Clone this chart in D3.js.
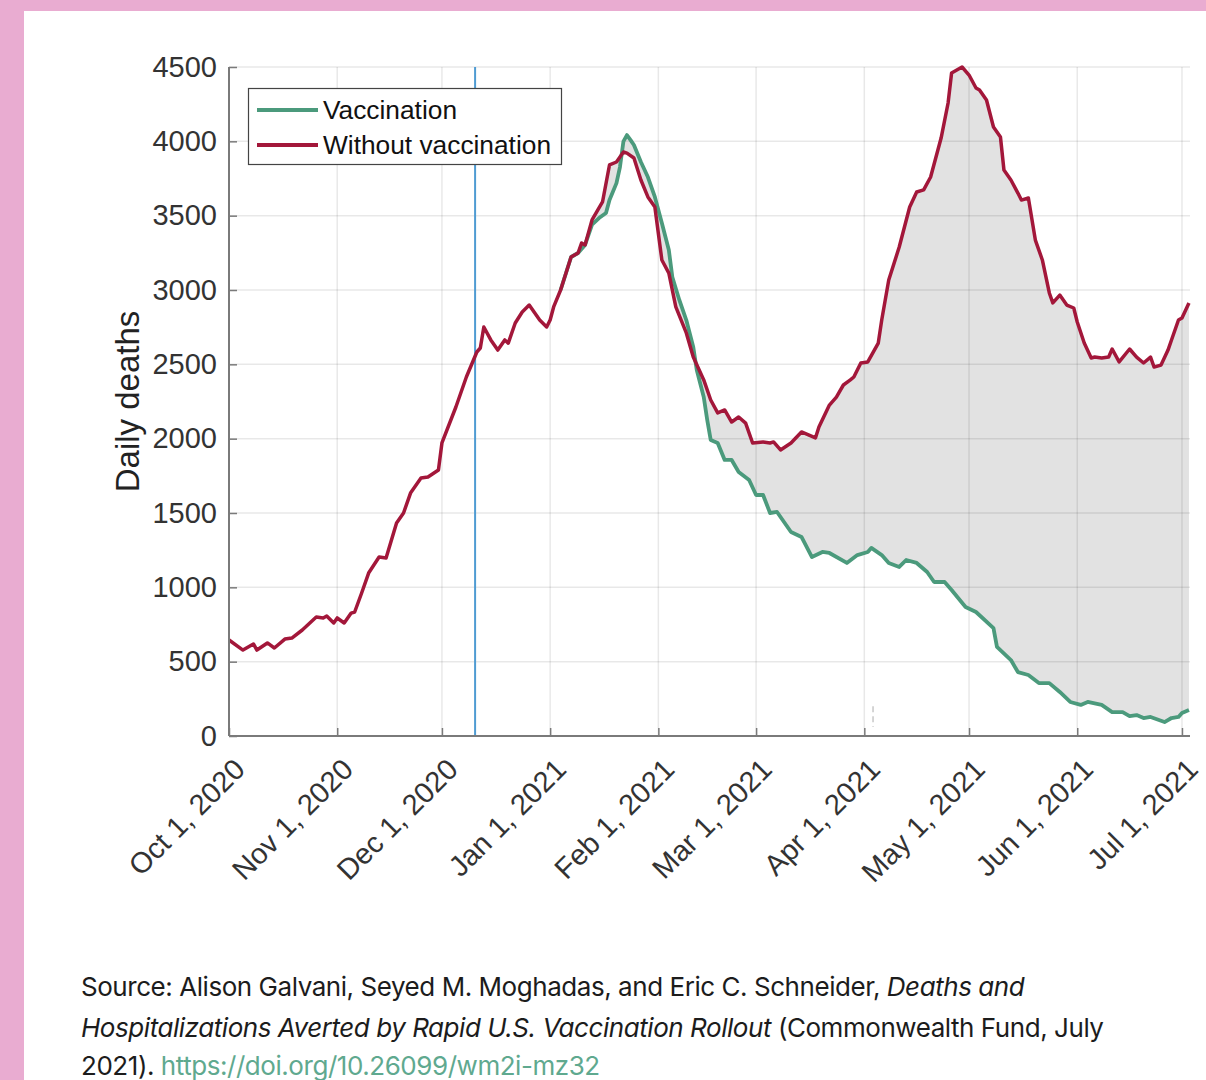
<!DOCTYPE html>
<html>
<head>
<meta charset="utf-8">
<script src="https://cdn.jsdelivr.net/npm/d3@7"></script>
<style>
  html, body { margin: 0; padding: 0; background: #fff; }
  svg { display: block; }
</style>
</head>
<body>
<svg id="chart" width="1206" height="1080"></svg>
<script>
// ---- Data (day offsets from Oct 1, 2020) ----
const startDate = Date.UTC(2020, 9, 1);
const endDay = 275.3;

const redDays = [0,4,7,8,11,13,16,18,21,25,27,28,30,31,33,35,36,38,40,43,45,48,50,52,55,57,60,61,65,68,71,72,73,75,77,79,80,82,84,86,89,91,92,93,95,98,100,101,102,104,107,109,111,113,114,116,118,120,122,124,126,128,131,133,136,138,140,142,144,146,148,150,153,155,156,158,161,164,166,168,169,172,174,176,178,179,181,183,186,187,189,192,195,197,199,201,204,206,207,210,212,214,215,217,219,221,222,224,226,227,229,231,233,235,236,238,240,242,243,245,247,248,250,252,253,255,258,260,262,264,265,267,269,270,272,273,275];
const redValues = [646,578,619,578,626,592,652,659,713,800,794,807,760,794,760,827,834,962,1096,1204,1197,1433,1500,1634,1735,1742,1789,1971,2213,2415,2583,2610,2751,2664,2596,2664,2643,2778,2852,2899,2798,2751,2798,2886,3000,3222,3249,3316,3303,3471,3592,3841,3861,3928,3921,3888,3740,3626,3558,3202,3114,2886,2711,2549,2395,2260,2173,2193,2112,2146,2105,1971,1978,1971,1978,1924,1971,2045,2025,2005,2078,2226,2280,2361,2395,2415,2509,2516,2643,2800,3067,3289,3558,3659,3673,3760,4022,4258,4460,4500,4446,4359,4345,4278,4096,4029,3807,3740,3652,3605,3619,3336,3202,2980,2913,2966,2899,2879,2785,2643,2543,2549,2543,2549,2603,2516,2603,2549,2509,2549,2482,2495,2596,2664,2798,2812,2913];

const greenDays = [95,98,100,102,104,106,108,109,111,112,113,114,115,116,118,120,122,124,126,127,129,131,133,134,136,137,138,140,142,144,146,149,151,153,155,157,158,161,164,167,170,172,177,180,183,184,187,189,192,194,197,200,202,205,207,211,214,219,220,224,226,229,232,235,238,241,244,246,250,253,256,258,260,262,264,268,270,272,273,275];
const greenValues = [3000,3222,3249,3303,3440,3484,3518,3605,3719,3827,4000,4042,4010,3975,3861,3760,3626,3451,3269,3087,2933,2798,2616,2462,2280,2126,1991,1971,1857,1857,1776,1722,1621,1621,1500,1507,1473,1372,1339,1204,1238,1231,1164,1217,1238,1265,1217,1164,1137,1184,1164,1103,1036,1036,982,868,834,726,599,511,430,410,356,356,296,229,209,229,209,161,161,134,141,121,128,94,121,128,155,175];

const vaccineStartDay = 70.5;
const yTicks = [0,500,1000,1500,2000,2500,3000,3500,4000,4500];
const monthTicks = [[2020,9],[2020,10],[2020,11],[2021,0],[2021,1],[2021,2],[2021,3],[2021,4],[2021,5],[2021,6]];
const seriesNames = ["Vaccination", "Without vaccination"];
const yLabel = "Daily deaths";

// ---- Setup ----
const toDate = d => new Date(startDate + d * 86400000);
const svg = d3.select("#chart");
const W = 1206, H = 1080;

const x = d3.scaleUtc().domain([toDate(0), toDate(endDay)]).range([229, 1190]);
const y = d3.scaleLinear().domain([0, 4500]).range([736, 67]);

const red = "#a3173a", green = "#4b9a7c", blue = "#4f9bd2";
const FONT = "'Liberation Sans', Arial, Helvetica, sans-serif";

// background & pink frame
svg.append("rect").attr("width", W).attr("height", H).attr("fill", "#e9acd1");
svg.append("rect").attr("x", 24).attr("y", 11).attr("width", W - 24).attr("height", H - 11).attr("fill", "#fff");

const redPts = redDays.map((d, i) => [toDate(d), redValues[i]]);
const greenPts = greenDays.map((d, i) => [toDate(d), greenValues[i]]);

// shaded area between curves
const fillPts = redPts.filter(p => p[0] >= toDate(greenDays[0])).concat(greenPts.slice().reverse());
svg.append("path")
  .attr("d", d3.line().x(p => x(p[0])).y(p => y(p[1]))(fillPts) + "Z")
  .attr("fill", "#e2e2e2").attr("stroke", "none");

// grid
const monthDates = monthTicks.map(m => new Date(Date.UTC(m[0], m[1], 1)));
const grid = svg.append("g");
grid.selectAll(".hg").data(yTicks).join("line")
  .attr("x1", x.range()[0]).attr("x2", x.range()[1])
  .attr("y1", d => y(d)).attr("y2", d => y(d))
  .attr("stroke", "rgba(0,0,0,0.09)").attr("stroke-width", 1.5);
grid.selectAll(".vg").data(monthDates).join("line")
  .attr("x1", d => x(d)).attr("x2", d => x(d))
  .attr("y1", y(4500)).attr("y2", y(0))
  .attr("stroke", "rgba(0,0,0,0.09)").attr("stroke-width", 1.5);

// vaccine start line
svg.append("line")
  .attr("x1", x(toDate(vaccineStartDay))).attr("x2", x(toDate(vaccineStartDay)))
  .attr("y1", y(4500)).attr("y2", y(0))
  .attr("stroke", blue).attr("stroke-width", 2);

// small dashed marker near Apr 3
svg.append("line")
  .attr("x1", x(toDate(184.5))).attr("x2", x(toDate(184.5)))
  .attr("y1", y(200)).attr("y2", y(60))
  .attr("stroke", "#c8c8c8").attr("stroke-width", 1.5).attr("stroke-dasharray", "6,4");

// lines
const lineGen = d3.line().x(p => x(p[0])).y(p => y(p[1]));
svg.append("path").attr("d", lineGen(greenPts)).attr("fill", "none")
  .attr("stroke", green).attr("stroke-width", 3.8).attr("stroke-linejoin", "round");
svg.append("path").attr("d", lineGen(redPts)).attr("fill", "none")
  .attr("stroke", red).attr("stroke-width", 3.5).attr("stroke-linejoin", "round");

// axes
const axisColor = "#7a7a7a";
const yAxis = svg.append("g").attr("transform", `translate(${x.range()[0]},0)`)
  .call(d3.axisLeft(y).tickValues(yTicks).tickFormat(d3.format("d"))
        .tickSizeInner(-8).tickSizeOuter(0).tickPadding(12));
yAxis.select(".domain").attr("stroke", axisColor).attr("stroke-width", 2).attr("d", `M0,${y(4500)}V${y(0)}`);
yAxis.selectAll(".tick line").attr("stroke", axisColor).attr("stroke-width", 1.5);
yAxis.selectAll(".tick text").attr("font-family", FONT).attr("font-size", 29).attr("fill", "#333");

const xAxis = svg.append("g").attr("transform", `translate(0,${y(0)})`)
  .call(d3.axisBottom(x).tickValues(monthDates).tickFormat(d3.utcFormat("%b %-d, %Y"))
        .tickSizeInner(-8).tickSizeOuter(0));
xAxis.select(".domain").attr("stroke", axisColor).attr("stroke-width", 2).attr("d", `M${x.range()[0]},0H${x.range()[1]}`);
xAxis.selectAll(".tick line").attr("stroke", axisColor).attr("stroke-width", 1.5);
xAxis.selectAll(".tick text")
  .attr("font-family", FONT).attr("font-size", 29).attr("fill", "#333")
  .attr("text-anchor", "end").attr("x", 0).attr("y", 0).attr("dy", "0.35em")
  .attr("transform", "translate(10,28) rotate(-45)");

// y label
svg.append("text")
  .attr("transform", `translate(139,${(y(0) + y(4500)) / 2}) rotate(-90)`)
  .attr("text-anchor", "middle").attr("font-family", FONT).attr("font-size", 33).attr("fill", "#222")
  .text(yLabel);

// legend
const lg = svg.append("g");
lg.append("rect").attr("x", 248.5).attr("y", 88.5).attr("width", 313).attr("height", 76)
  .attr("fill", "#fff").attr("stroke", "#444").attr("stroke-width", 1.2);
[[green, 110], [red, 145]].forEach((c, i) => {
  lg.append("line").attr("x1", 257).attr("x2", 318).attr("y1", c[1]).attr("y2", c[1])
    .attr("stroke", c[0]).attr("stroke-width", 4);
  lg.append("text").attr("x", 323).attr("y", c[1]).attr("dy", "0.36em")
    .attr("font-family", FONT).attr("font-size", 26.3).attr("fill", "#111").text(seriesNames[i]);
});

// source note
const SF = "Inter, 'Noto Sans', sans-serif";
const src = svg.append("g").attr("font-family", SF).attr("font-size", 26).attr("fill", "#1c1c1c").attr("letter-spacing", "-0.45");
const l1 = src.append("text").attr("x", 81).attr("y", 996);
l1.append("tspan").text("Source: Alison Galvani, Seyed M. Moghadas, and Eric C. Schneider, ");
l1.append("tspan").attr("font-style", "italic").text("Deaths and");
const l2 = src.append("text").attr("x", 81).attr("y", 1037);
l2.append("tspan").attr("font-style", "italic").text("Hospitalizations Averted by Rapid U.S. Vaccination Rollout");
l2.append("tspan").text(" (Commonwealth Fund, July");
const l3 = src.append("text").attr("x", 81).attr("y", 1075);
l3.append("tspan").text("2021). ");
l3.append("tspan").attr("fill", "#5fa98f").text("https://doi.org/10.26099/wm2i-mz32");
</script>
</body>
</html>
